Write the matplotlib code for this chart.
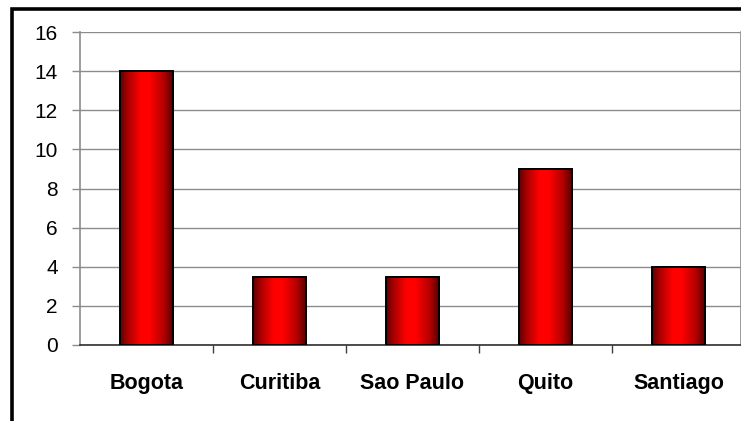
import numpy as np
import matplotlib.pyplot as plt
from matplotlib.colors import LinearSegmentedColormap
from matplotlib.patches import Rectangle

cities = ["Bogota", "Curitiba", "Sao Paulo", "Quito", "Santiago"]
values = [14, 3.5, 3.5, 9, 4]
yticks = [0, 2, 4, 6, 8, 10, 12, 14, 16]

plt.rcParams["font.family"] = ["Liberation Sans", "DejaVu Sans"]

W, H = 741, 421
fig = plt.figure(figsize=(W / 100, H / 100), dpi=100)
fig.patch.set_facecolor("white")

# heavy black frame around the chart, runs off the right/bottom edges
fig.patches.append(Rectangle((11.5 / W, -0.1), 1.2, (H - 9.5) / H + 0.1,
                             transform=fig.transFigure, fill=False,
                             edgecolor="black", linewidth=2.6))

ax = fig.add_axes([80 / W, (H - 345) / H, 661 / W, 313 / H])

# horizontal red gradient used for every bar
shade = LinearSegmentedColormap.from_list(
    "bar", [(0.0, "#5c0000"), (0.12, "#a00000"), (0.38, "#ff0000"),
            (0.55, "#ff0000"), (0.82, "#b00000"), (1.0, "#4a0000")])
grad = np.linspace(0, 1, 256).reshape(1, -1)

width = 0.4
x = np.arange(len(cities))
for xi, v in zip(x, values):
    ax.imshow(grad, cmap=shade, aspect="auto", interpolation="bilinear",
              extent=(xi - width / 2, xi + width / 2, 0, v), zorder=3)
ax.bar(x, values, width=width, fill=False, edgecolor="black",
       linewidth=1.4, zorder=4)
ax.set_xlim(-0.5, 4.47)
ax.set_ylim(0, 16)

ax.set_yticks(yticks)
ax.set_yticklabels([str(t) for t in yticks], fontsize=15)
ax.yaxis.grid(True, color="#8c8c8c", linewidth=1.0, zorder=0)
ax.set_axisbelow(True)

ax.set_xticks(x)
ax.set_xticklabels(cities, fontsize=15.5, fontweight="bold")
ax.tick_params(axis="x", length=0, pad=20)
ax.set_xticks(np.arange(0.5, 4.5, 1), minor=True)
ax.tick_params(axis="x", which="minor", length=6, color="#404040", width=1)
ax.tick_params(axis="y", length=6, color="#8c8c8c", width=1, pad=10)

for side in ["left", "right", "top"]:
    ax.spines[side].set_color("#8c8c8c")
    ax.spines[side].set_linewidth(1.2)
ax.spines["top"].set_visible(False)
ax.spines["bottom"].set_color("#303030")
ax.spines["bottom"].set_linewidth(1.2)

fig.savefig("out.png", dpi=100)
